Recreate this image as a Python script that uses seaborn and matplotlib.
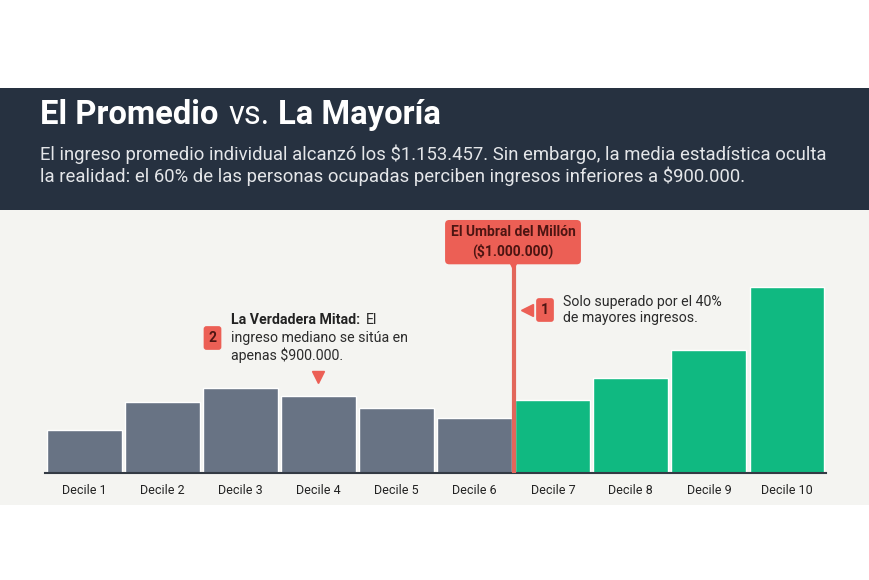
import matplotlib
matplotlib.use("Agg")
import matplotlib.pyplot as plt
import matplotlib.patches as mpatches
import seaborn as sns
import pandas as pd

# datos (altura relativa de cada decil)
deciles = ["Decile 1", "Decile 2", "Decile 3", "Decile 4", "Decile 5",
           "Decile 6", "Decile 7", "Decile 8", "Decile 9", "Decile 10"]
ingreso_relativo = [43, 71, 85, 77, 65, 55, 73, 95, 123, 186]
grupo = ["bajo"] * 6 + ["alto"] * 4

titulo_1 = "El Promedio"
titulo_vs = "vs."
titulo_2 = "La Mayoría"
subtitulo = ("El ingreso promedio individual alcanzó los $1.153.457. Sin embargo, la media estadística oculta\n"
             "la realidad: el 60% de las personas ocupadas perciben ingresos inferiores a $900.000.")

W, H = 870, 580
OSCURO = "#263140"
PANEL = "#f4f4f1"
GRIS = "#687384"
VERDE = "#10b981"
ROJO = "#ec5f55"
LINEA = "#e2665a"
TEXTO_ROJO = "#4d1512"


def fx(px):
    return px / W


def fy(py):
    return 1 - py / H


sns.set_theme(style="white")
plt.rcParams["font.family"] = ["Roboto", "DejaVu Sans"]

fig = plt.figure(figsize=(8.7, 5.8), dpi=100)
fig.patch.set_facecolor("white")

# fondos
fig.add_artist(mpatches.Rectangle((0, fy(210)), 1, (210 - 88) / H, transform=fig.transFigure,
                                  facecolor=OSCURO, edgecolor="none", zorder=0))
fig.add_artist(mpatches.Rectangle((0, fy(505)), 1, (505 - 210) / H, transform=fig.transFigure,
                                  facecolor=PANEL, edgecolor="none", zorder=0))

# eje de barras: base en y=473 px, 1 unidad = 1 px
ax = fig.add_axes([fx(45.5), fy(473), (826 - 45.5) / W, (473 - 215) / H])
ax.set_facecolor("none")
df = pd.DataFrame({"decil": deciles, "valor": ingreso_relativo, "grupo": grupo})
sns.barplot(data=df, x="decil", y="valor", hue="grupo", palette={"bajo": GRIS, "alto": VERDE},
            width=0.96, dodge=False, legend=False, saturation=1, ax=ax)
ax.set_xlim(-0.5, 9.5)
ax.set_ylim(0, 473 - 215)
ax.set_xlabel("")
ax.set_ylabel("")
ax.set_yticks([])
for s in ["left", "right", "top"]:
    ax.spines[s].set_visible(False)
ax.spines["bottom"].set_color("#333a44")
ax.spines["bottom"].set_linewidth(1.5)
ax.tick_params(axis="x", length=0, pad=8, labelsize=9, labelcolor="#222222")

# linea del umbral
ax.plot([5.5, 5.5], [0, 473 - 262], color=LINEA, lw=3, zorder=5, solid_capstyle="butt")

# titulo
fig.text(fx(40), fy(115), titulo_1, fontsize=23.6, fontweight="bold", color="white", va="center")
fig.text(fx(228), fy(115), titulo_vs, fontsize=23.6, color="white", va="center")
fig.text(fx(278), fy(115), titulo_2, fontsize=23.6, fontweight="bold", color="white", va="center")
fig.text(fx(40), fy(165), subtitulo, fontsize=13.3, color="#e4e6e9", va="center", linespacing=1.15)

# caja del umbral
fig.text(fx(513), fy(242), "El Umbral del Millón\n($1.000.000)", fontsize=10, fontweight="bold",
         color=TEXTO_ROJO, ha="center", va="center", linespacing=1.35,
         bbox=dict(boxstyle="round,pad=0.4,rounding_size=0.3", facecolor=ROJO, edgecolor="none"))
fig.lines.append(plt.Line2D([fx(513)], [fy(264)], marker="v", markersize=7, color=ROJO,
                            transform=fig.transFigure))

# nota 1
fig.lines.append(plt.Line2D([fx(527)], [fy(310)], marker="<", markersize=9, color=ROJO,
                            transform=fig.transFigure))
fig.text(fx(545), fy(310), "1", fontsize=10, fontweight="bold", color=TEXTO_ROJO, ha="center", va="center",
         bbox=dict(boxstyle="round,pad=0.35,rounding_size=0.2", facecolor=ROJO, edgecolor="none"))
fig.text(fx(563), fy(310), "Solo superado por el 40%\nde mayores ingresos.", fontsize=10.2,
         color="#2b2b2b", va="center", linespacing=1.25)

# nota 2
fig.text(fx(212.5), fy(338), "2", fontsize=10, fontweight="bold", color=TEXTO_ROJO, ha="center", va="center",
         bbox=dict(boxstyle="round,pad=0.35,rounding_size=0.2", facecolor=ROJO, edgecolor="none"))
fig.text(fx(231), fy(320), "La Verdadera Mitad:", fontsize=10.2, fontweight="bold", color="#222222", va="center")
fig.text(fx(366), fy(320), "El", fontsize=10.2, color="#2b2b2b", va="center")
fig.text(fx(231), fy(347), "ingreso mediano se sitúa en\napenas $900.000.", fontsize=10.2,
         color="#2b2b2b", va="center", linespacing=1.25)
fig.lines.append(plt.Line2D([fx(318)], [fy(377)], marker="v", markersize=9, color=ROJO,
                            transform=fig.transFigure))

fig.savefig("out.png", dpi=100, facecolor=fig.get_facecolor())
